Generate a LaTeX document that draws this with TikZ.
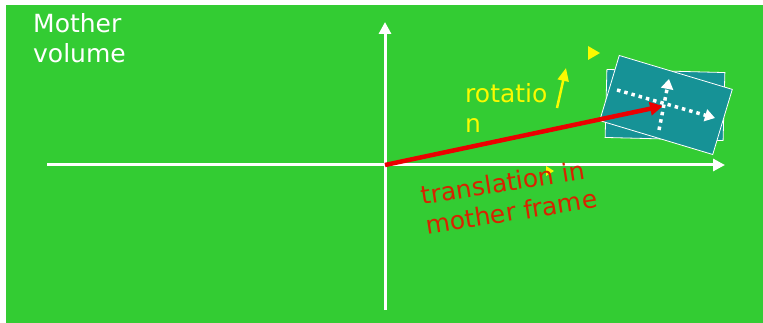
\documentclass[tikz,border=0pt]{standalone}
\usepackage{fontspec}
\setmainfont{DejaVu Sans}
\usepackage{tikz}
\usetikzlibrary{arrows.meta}
\definecolor{mothergreen}{RGB}{51,204,51}
\definecolor{daughterteal}{RGB}{22,146,150}
\definecolor{transred}{RGB}{235,0,0}
\definecolor{labelred}{RGB}{215,35,0}
\definecolor{rotyellow}{RGB}{250,250,0}

\begin{document}
\begin{tikzpicture}[x=1pt, y=-1pt,
    axis/.style={draw=white, line width=3pt, -{Triangle[length=12pt,width=12pt]}},
    daughter/.style={draw=white, line width=0.8pt, fill=daughterteal, minimum width=118pt, minimum height=68pt, inner sep=0pt},
    localaxis/.style={draw=white, line width=3.5pt, dash pattern=on 3.5pt off 4pt, -{Triangle[length=10pt,width=12pt]}},
    bigtext/.style={font=\fontsize{25}{30}\selectfont, align=left, inner sep=0pt}]
    \useasboundingbox (0,0) rectangle (763,323);
    \fill[mothergreen] (6,5) rectangle (763,323);

    \coordinate (O) at (385,165);
    \coordinate (xl) at (47,165);
    \coordinate (xr) at (725,165);
    \coordinate (yb) at (385,310);
    \coordinate (yt) at (385,22);

    \path[axis] (xl) -- (xr);
    \path[axis] (yb) -- (yt);

    % daughter volume, before and after rotation
    \node (back) [daughter, rotate=-1.5] at (665,105) {};
    \node (front) [daughter, rotate=-16.7] at (666,105) {};

    \coordinate (P) at (663,106);
    \path[draw, transred, line width=4.5pt, -{Triangle[length=13pt,width=13pt]}] (O) -- (P);

    \coordinate (ul) at (617,90);
    \coordinate (ur) at (715,118);
    \coordinate (vb) at (659,130);
    \coordinate (vt) at (669,79);
    \path[localaxis] (ul) -- (ur);
    \path[localaxis] (vb) -- (vt);

    % rotation hint
    \coordinate (r0) at (557,108);
    \coordinate (r1) at (566,68);
    \path[draw, rotyellow, line width=2.5pt, -{Triangle[length=13pt,width=11pt]}] (r0) -- (r1);
    \fill[rotyellow] (588,46) -- (600,53) -- (588,60) -- cycle;
    \fill[rotyellow] (546,166) -- (554,171) -- (546,176) -- cycle;

    \node (mother) [bigtext, white, anchor=north west] at (33,13) {Mother\\volume};
    \node (rot) [bigtext, rotyellow, anchor=north west] at (465,83) {rotatio\\n};
    \node (trans) [bigtext, labelred, rotate=9] at (509,197) {translation in\\mother frame};
\end{tikzpicture}
\end{document}
